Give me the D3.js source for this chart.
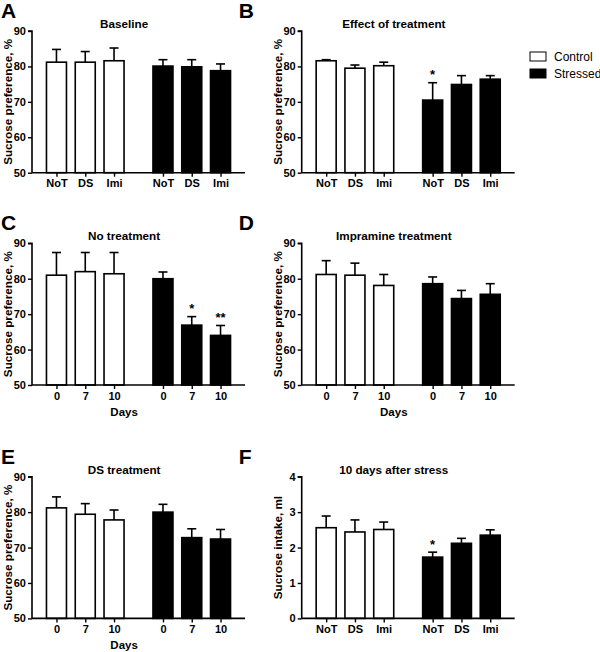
<!DOCTYPE html>
<html><head><meta charset="utf-8">
<script src="https://cdn.jsdelivr.net/npm/d3@7"></script>
<style>body{margin:0;background:#fff}svg{display:block}text{font-family:"Liberation Sans",Arial,sans-serif}</style>
</head><body><svg id="c" width="600" height="652"></svg>
<script>
// ---- data ----
const treatLabels = ["NoT","DS","Imi","NoT","DS","Imi"];
const dayLabels = ["0","7","10","0","7","10"];
const groups = ["Control","Control","Control","Stressed","Stressed","Stressed"];
const legendLabels = ["Control","Stressed"];
const prefTicks = [50,60,70,80,90];
const intakeTicks = [0,1,2,3,4];

const baselineMean = [81.2,81.2,81.6,80.1,79.9,78.8];
const baselineSem  = [3.6,3.0,3.6,1.8,2.0,1.9];
const effectMean = [81.6,79.5,80.2,70.5,74.9,76.4];
const effectSem  = [0.3,0.9,1.0,4.9,2.5,1.0];
const effectStars = ["","","","*","",""];
const noTreatMean = [81.0,82.0,81.4,80.0,66.9,64.0];
const noTreatSem  = [6.4,5.4,6.0,1.9,2.4,2.8];
const noTreatStars = ["","","","","*","**"];
const imiMean = [81.2,81.0,78.1,78.6,74.4,75.6];
const imiSem  = [3.9,3.4,3.1,1.9,2.3,3.0];
const dsMean = [81.2,79.4,77.8,80.0,72.8,72.4];
const dsSem  = [3.1,3.0,2.8,2.2,2.5,2.7];
const intakeMean = [2.56,2.44,2.51,1.73,2.12,2.35];
const intakeSem  = [0.33,0.34,0.21,0.14,0.14,0.15];
const intakeStars = ["","","","*","",""];

const panels = [
  {letter:"A", title:"Baseline", mean:baselineMean, sem:baselineSem, stars:null, labels:treatLabels, xTitle:null, yTitle:"Sucrose preference, %", ticks:prefTicks, col:0, row:0},
  {letter:"B", title:"Effect of treatment", mean:effectMean, sem:effectSem, stars:effectStars, labels:treatLabels, xTitle:null, yTitle:"Sucrose preference, %", ticks:prefTicks, col:1, row:0},
  {letter:"C", title:"No treatment", mean:noTreatMean, sem:noTreatSem, stars:noTreatStars, labels:dayLabels, xTitle:"Days", yTitle:"Sucrose preference, %", ticks:prefTicks, col:0, row:1},
  {letter:"D", title:"Impramine treatment", mean:imiMean, sem:imiSem, stars:null, labels:dayLabels, xTitle:"Days", yTitle:"Sucrose preference, %", ticks:prefTicks, col:1, row:1},
  {letter:"E", title:"DS treatment", mean:dsMean, sem:dsSem, stars:null, labels:dayLabels, xTitle:"Days", yTitle:"Sucrose preference, %", ticks:prefTicks, col:0, row:2},
  {letter:"F", title:"10 days after stress", mean:intakeMean, sem:intakeSem, stars:intakeStars, labels:treatLabels, xTitle:null, yTitle:"Sucrose intake, ml", ticks:intakeTicks, col:1, row:2}
];

// ---- layout ----
const colX = [32, 301.7];
const rowTop = [31, 243.3, 476.7];
const plotW = 213, plotH = 141.7;
const barW = 20, capW = 9;

const svg = d3.select("#c");

panels.forEach(p => {
  const g = svg.append("g").attr("transform", `translate(${colX[p.col]},${rowTop[p.row]})`);
  const pos = d3.range(p.mean.length).map(i => i < 3 ? i : i + 0.7);
  const x = d3.scaleLinear().domain([-0.85, 6.55]).range([0, plotW]);
  const y = d3.scaleLinear().domain(d3.extent(p.ticks)).range([plotH, 0]);

  // bars
  g.selectAll("rect.bar").data(p.mean).join("rect")
    .attr("x", (d,i) => x(pos[i]) - barW/2)
    .attr("y", d => y(d))
    .attr("width", barW)
    .attr("height", d => y(p.ticks[0]) - y(d))
    .attr("fill", (d,i) => groups[i] === "Control" ? "#fff" : "#000")
    .attr("stroke", "#000").attr("stroke-width", 1.6);

  // error bars (upward)
  p.mean.forEach((m,i) => {
    const cx = x(pos[i]);
    g.append("line").attr("x1", cx).attr("x2", cx).attr("y1", y(m)).attr("y2", y(m + p.sem[i]))
      .attr("stroke", "#000").attr("stroke-width", 1.6);
    g.append("line").attr("x1", cx - capW/2).attr("x2", cx + capW/2).attr("y1", y(m + p.sem[i])).attr("y2", y(m + p.sem[i]))
      .attr("stroke", "#000").attr("stroke-width", 1.6);
    if (p.stars && p.stars[i]) {
      g.append("text").attr("x", cx).attr("y", y(m + p.sem[i]) - 3.5)
        .attr("text-anchor", "middle").attr("font-size", 13).attr("font-weight", "bold")
        .text(p.stars[i]);
    }
  });

  // y axis
  const ya = g.append("g").call(d3.axisLeft(y).tickValues(p.ticks).tickSize(4).tickPadding(2).tickFormat(d3.format("d")));
  ya.select(".domain").attr("stroke-width", 1.6).attr("d", `M-4,${y(p.ticks[p.ticks.length-1])}H0V${plotH}`);
  ya.selectAll(".tick line").attr("stroke-width", 1.4);
  ya.selectAll("text").attr("font-size", 11).attr("font-weight", "bold").attr("font-family", '"Liberation Sans",Arial,sans-serif').attr("fill", "#000");

  // x axis
  const xa = g.append("g").attr("transform", `translate(0,${plotH})`)
    .call(d3.axisBottom(x).tickValues(pos).tickSize(4).tickPadding(3).tickFormat((d,i) => p.labels[i]));
  xa.select(".domain").attr("stroke-width", 1.6).attr("d", `M0,0H${plotW}`);
  xa.selectAll(".tick line").attr("stroke-width", 1.4);
  xa.selectAll("text").attr("font-size", 11).attr("font-weight", "bold").attr("font-family", '"Liberation Sans",Arial,sans-serif').attr("fill", "#000");

  // title
  g.append("text").attr("x", x(2.35)).attr("y", -3).attr("text-anchor", "middle")
    .attr("font-size", 11.7).attr("font-weight", "bold").text(p.title);
  // panel letter
  g.append("text").attr("x", -colX[0] + 1 + (p.col ? -32 : 0)).attr("y", -13)
    .attr("font-size", 21).attr("font-weight", "bold").text(p.letter);
  // y title
  g.append("text").attr("transform", `translate(${-20},${plotH/2}) rotate(-90)`)
    .attr("text-anchor", "middle").attr("font-size", 11.7).attr("font-weight", "bold").text(p.yTitle);
  // x title
  if (p.xTitle) {
    g.append("text").attr("x", x(2.35)).attr("y", plotH + 31).attr("text-anchor", "middle")
      .attr("font-size", 11.5).attr("font-weight", "bold").text(p.xTitle);
  }
});

// legend
const leg = svg.append("g").attr("transform", "translate(530,52)");
legendLabels.forEach((l,i) => {
  leg.append("rect").attr("x", 0).attr("y", i*17).attr("width", 16).attr("height", 9)
    .attr("fill", l === "Control" ? "#fff" : "#000").attr("stroke", "#000").attr("stroke-width", 1);
  leg.append("text").attr("x", 24).attr("y", i*17 + 9).attr("font-size", 12).text(l);
});
</script></body></html>
